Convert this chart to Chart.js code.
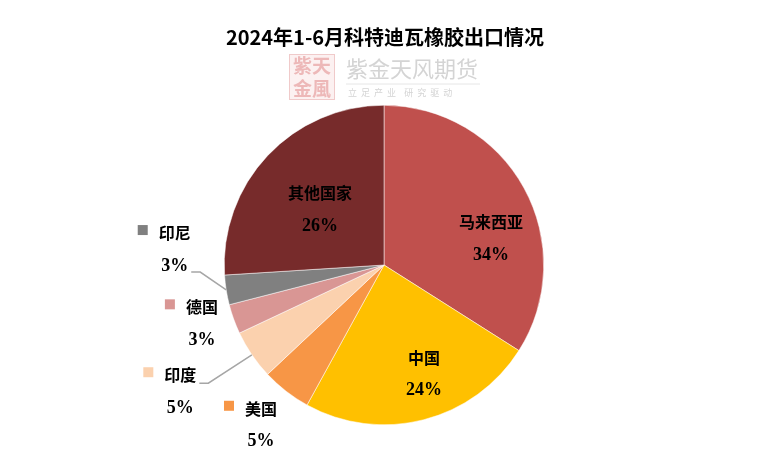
<!DOCTYPE html>
<html>
<head>
<meta charset="utf-8">
<script src="https://cdn.jsdelivr.net/npm/chart.js@4/dist/chart.umd.min.js"></script>
<style>
  html, body { margin: 0; padding: 0; background: #fff; }
  #wrap { width: 768px; height: 475px; position: relative; }
</style>
</head>
<body>
<div id="wrap"><canvas id="pie"></canvas></div>
<script>
// 数据
const titleText = "2024年1-6月科特迪瓦橡胶出口情况";
const countries = ["马来西亚", "中国", "美国", "印度", "德国", "印尼", "其他国家"];
const shares = [34, 24, 5, 5, 3, 3, 26];
const sliceColors = ["#C0504D", "#FFC000", "#F79646", "#FBD1AE", "#D99694", "#808080", "#772B2B"];

// 标签位置 (相对圆心, 以半径为单位), 外部标签带小方块
const labelPlace = [
  { dx: 0.67, dy: -0.27, inside: true },
  { dx: 0.25, dy: 0.58, inside: true },
  { dx: -0.77, dy: 0.9 },
  { dx: -1.275, dy: 0.69, leader: "name" },
  { dx: -1.14, dy: 0.265 },
  { dx: -1.31, dy: -0.2, leader: "pct" },
  { dx: -0.4, dy: -0.45, inside: true }
];

const labelPlugin = {
  id: "pieLabels",
  afterDatasetsDraw(chart) {
    const ctx = chart.ctx;
    const meta = chart.getDatasetMeta(0);
    const arc0 = meta.data[0];
    const cx = arc0.x, cy = arc0.y, r = arc0.outerRadius;
    const nameFont = "bold 16px 'Noto Sans CJK SC', sans-serif";
    const pctFont = "bold 18px 'Liberation Serif', serif";
    ctx.save();
    ctx.textBaseline = "middle";
    ctx.textAlign = "center";
    meta.data.forEach((arc, i) => {
      const p = labelPlace[i];
      const x = cx + p.dx * r;
      const y = cy + p.dy * r;
      const pct = shares[i] + "%";
      ctx.fillStyle = "#000";
      ctx.font = nameFont;
      const nw = ctx.measureText(countries[i]).width;
      ctx.fillText(countries[i], x, y);
      ctx.font = pctFont;
      const pw = ctx.measureText(pct).width;
      ctx.fillText(pct, x, y + 33);
      if (!p.inside) {
        ctx.fillStyle = sliceColors[i];
        ctx.fillRect(x - nw / 2 - 21, y - 8, 10, 10);
      }
      if (p.leader) {
        const mid = (arc.startAngle + arc.endAngle) / 2;
        const ex = cx + Math.cos(mid) * r;
        const ey = cy + Math.sin(mid) * r;
        let sx, sy;
        if (p.leader === "name") { sx = x + nw / 2 + 3; sy = y + 8; }
        else { sx = x + pw / 2 + 3; sy = y + 32 + 7; }
        ctx.strokeStyle = "#A6A6A6";
        ctx.lineWidth = 1.5;
        ctx.beginPath();
        ctx.moveTo(sx, sy);
        ctx.lineTo(sx + 9, sy);
        ctx.lineTo(ex, ey);
        ctx.stroke();
      }
    });
    ctx.restore();
  }
};

const titlePlugin = {
  id: "topTitle",
  afterDraw(chart) {
    const ctx = chart.ctx;
    const cx = chart.width / 2;
    ctx.save();
    // 水印
    ctx.fillStyle = "#FCF1F1";
    ctx.fillRect(cx - 95, 54, 46, 46);
    ctx.strokeStyle = "#F0CACA";
    ctx.lineWidth = 1;
    ctx.strokeRect(cx - 94.5, 54.5, 45, 45);
    ctx.fillStyle = "#EDB8B8";
    ctx.font = "bold 19px 'Noto Sans CJK SC', sans-serif";
    ctx.textAlign = "center";
    ctx.textBaseline = "middle";
    ctx.fillText("紫天", cx - 72, 66);
    ctx.fillText("金風", cx - 72, 89);
    ctx.fillStyle = "#D4D4D4";
    ctx.font = "22px 'Noto Sans CJK SC', sans-serif";
    ctx.textAlign = "left";
    ctx.fillText("紫金天风期货", cx - 38, 69);
    ctx.strokeStyle = "#E6E6E6";
    ctx.beginPath();
    ctx.moveTo(cx - 38, 84);
    ctx.lineTo(cx + 96, 84);
    ctx.stroke();
    ctx.font = "9px 'Noto Sans CJK SC', sans-serif";
    ctx.fillText("立  足  产  业    研  究  驱  动", cx - 36, 93);
    // 标题
    ctx.fillStyle = "#000";
    ctx.textAlign = "center";
    ctx.font = "bold 20px 'Noto Sans CJK SC', sans-serif";
    ctx.fillText(titleText, cx + 1, 37);
    ctx.restore();
  }
};

new Chart(document.getElementById("pie"), {
  type: "pie",
  data: {
    labels: countries,
    datasets: [{
      data: shares,
      backgroundColor: sliceColors,
      borderColor: "#fff",
      borderWidth: 0.5
    }]
  },
  options: {
    responsive: true,
    maintainAspectRatio: false,
    animation: false,
    layout: { padding: { top: 105, bottom: 50 } },
    plugins: {
      legend: { display: false },
      title: { display: false },
      tooltip: { enabled: false }
    }
  },
  plugins: [labelPlugin, titlePlugin]
});
</script>
</body>
</html>
